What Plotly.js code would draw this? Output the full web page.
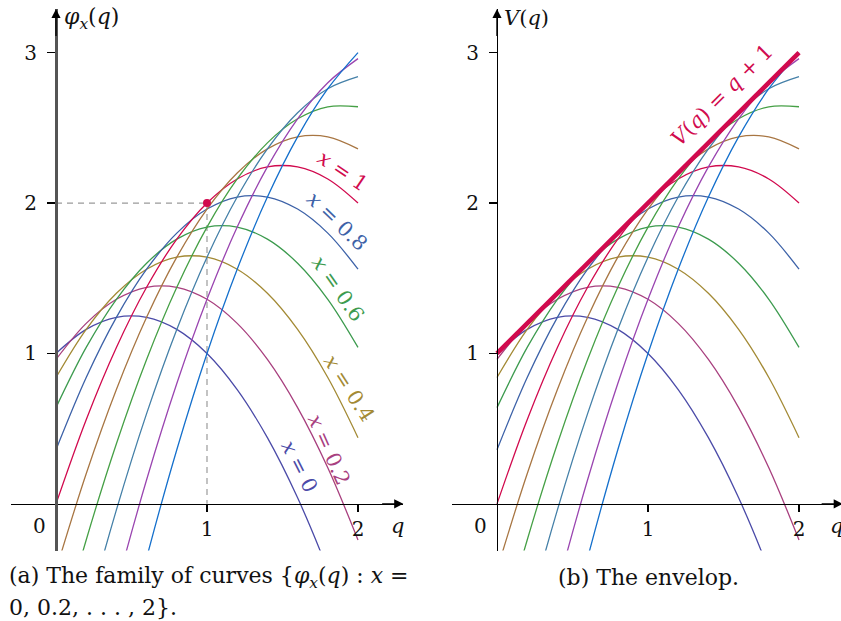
<!DOCTYPE html>
<html><head><meta charset="utf-8">
<script src="https://cdn.plot.ly/plotly-3.0.1.min.js"></script>
<style>html,body{margin:0;padding:0;background:#fff}</style>
</head><body><div id="chart" style="width:841px;height:621px"></div>
<script>
// sample positions along q
const qGrid = [0, 0.2, 0.4, 0.6, 0.8, 1.0, 1.2, 1.4, 1.6, 1.8, 2.0];
// family parameter x
const xParams = [0, 0.2, 0.4, 0.6, 0.8, 1, 1.2, 1.4, 1.6, 1.8, 2];
// phi_x(q), one array per curve
const phi_0   = [1.00, 1.16, 1.24, 1.24, 1.16, 1.00, 0.76, 0.44, 0.04, -0.44, -1.00];
const phi_02  = [0.96, 1.20, 1.36, 1.44, 1.44, 1.36, 1.20, 0.96, 0.64, 0.24, -0.24];
const phi_04  = [0.84, 1.16, 1.40, 1.56, 1.64, 1.64, 1.56, 1.40, 1.16, 0.84, 0.44];
const phi_06  = [0.64, 1.04, 1.36, 1.60, 1.76, 1.84, 1.84, 1.76, 1.60, 1.36, 1.04];
const phi_08  = [0.36, 0.84, 1.24, 1.56, 1.80, 1.96, 2.04, 2.04, 1.96, 1.80, 1.56];
const phi_1   = [0.00, 0.56, 1.04, 1.44, 1.76, 2.00, 2.16, 2.24, 2.24, 2.16, 2.00];
const phi_12  = [-0.44, 0.20, 0.76, 1.24, 1.64, 1.96, 2.20, 2.36, 2.44, 2.44, 2.36];
const phi_14  = [-0.96, -0.24, 0.40, 0.96, 1.44, 1.84, 2.16, 2.40, 2.56, 2.64, 2.64];
const phi_16  = [-1.56, -0.76, -0.04, 0.60, 1.16, 1.64, 2.04, 2.36, 2.60, 2.76, 2.84];
const phi_18  = [-2.24, -1.36, -0.56, 0.16, 0.80, 1.36, 1.84, 2.24, 2.56, 2.80, 2.96];
const phi_2   = [-3.00, -2.04, -1.16, -0.36, 0.36, 1.00, 1.56, 2.04, 2.44, 2.76, 3.00];
const phiSeries = [phi_0, phi_02, phi_04, phi_06, phi_08, phi_1, phi_12, phi_14, phi_16, phi_18, phi_2];
// envelope V(q) = q + 1
const envQ = [0, 2];
const envV = [1, 3];
// marked point on x = 1 curve
const markQ = [1];
const markV = [2];
// tick labels
const xTickVals = [1, 2];
const xTickText = ['1', '2'];
const yTickVals = [1, 2, 3];
const yTickText = ['1', '2', '3'];
// labeled curves (left panel)
const labelText = ['<i>x</i> = 0', '<i>x</i> = 0.2', '<i>x</i> = 0.4', '<i>x</i> = 0.6', '<i>x</i> = 0.8', '<i>x</i> = 1'];

const colors = ['#4b4ba8', '#a8407f', '#a38a35', '#3d9b4f', '#3d62a8', '#d10a4e',
                '#a87643', '#46a046', '#4580a8', '#9a45b0', '#1570cc'];
const SERIF = 'DejaVu Serif';

const traces = [];
// dashed guides (left)
traces.push({x: [0, markQ[0]], y: [markV[0], markV[0]], xaxis: 'x', yaxis: 'y', mode: 'lines',
  line: {color: '#9a9a9a', width: 1.2, dash: '6px,5px'}, hoverinfo: 'skip'});
traces.push({x: [markQ[0], markQ[0]], y: [markV[0], 0], xaxis: 'x', yaxis: 'y', mode: 'lines',
  line: {color: '#9a9a9a', width: 1.2, dash: '6px,5px'}, hoverinfo: 'skip'});
['x', 'x2'].forEach((xa, p) => {
  phiSeries.forEach((ys, i) => {
    traces.push({x: qGrid, y: ys, xaxis: xa, yaxis: p === 0 ? 'y' : 'y2', mode: 'lines',
      line: {color: colors[i], width: 1.3, shape: 'spline', smoothing: 1}, name: 'x=' + xParams[i]});
  });
});
traces.push({x: envQ, y: envV, xaxis: 'x2', yaxis: 'y2', mode: 'lines',
  line: {color: '#d10a4e', width: 4.5}});
traces.push({x: markQ, y: markV, xaxis: 'x', yaxis: 'y', mode: 'markers',
  marker: {color: '#d10a4e', size: 8}});

const W = 841, H = 621;
const yDom = [(H - 550.5) / H, (H - 9) / H];
const TF = {family: SERIF, size: 20, color: '#111'};
const axX = (dom, rng, pos, lc, lw) => ({domain: dom, range: rng, anchor: 'free', position: pos,
  showgrid: false, zeroline: false, showline: true, linecolor: lc, linewidth: lw,
  tickmode: 'array', tickvals: xTickVals, ticktext: xTickText, ticks: 'outside', ticklen: 7,
  tickwidth: 1.2, tickcolor: '#000', tickfont: TF, fixedrange: true});
const axY = (pos, lc, lw) => ({domain: yDom, range: [-0.31, 3.29], anchor: 'free', position: pos,
  showgrid: false, zeroline: false, showline: true, linecolor: lc, linewidth: lw,
  tickmode: 'array', tickvals: yTickVals, ticktext: yTickText, ticks: 'outside', ticklen: 8,
  ticklabelstandoff: 6,
  tickwidth: 1.2, tickcolor: '#000', tickfont: TF, fixedrange: true});

const xPos = (H - 504) / H;
const layout = {
  width: W, height: H, margin: {l: 0, r: 0, t: 0, b: 0}, showlegend: false,
  paper_bgcolor: '#fff', plot_bgcolor: 'rgba(0,0,0,0)',
  xaxis: axX([10.7 / W, 403.3 / W], [-0.3, 2.3], xPos, '#000', 1.4),
  yaxis: axY(56 / W, '#555', 2.5),
  xaxis2: axX([451.7 / W, 1], [-0.3, 2.278], xPos, '#000', 1.4),
  yaxis2: axY(497 / W, '#000', 1.2),
  annotations: []
};
const A = layout.annotations;
// axis arrows
[['x', 'y', 2.3], ['x2', 'y2', 2.29]].forEach(([xa, ya, xe]) => {
  A.push({xref: xa, yref: ya, axref: xa, ayref: ya, x: xe, y: 0, ax: xe - 0.15, ay: 0, text: '',
    showarrow: true, arrowhead: 2, arrowsize: 1.3, arrowwidth: 1.4, arrowcolor: '#000'});
  A.push({xref: xa, yref: ya, axref: xa, ayref: ya, x: 0, y: 3.29, ax: 0, ay: 3.1, text: '',
    showarrow: true, arrowhead: 2, arrowsize: 1.3, arrowwidth: 1.4, arrowcolor: '#000'});
  A.push({xref: xa, yref: ya, x: -0.11, y: -0.15, text: '0', showarrow: false, font: TF});
  A.push({xref: xa, yref: ya, x: xe - 0.04, y: -0.15, text: '<i>q</i>', showarrow: false,
    font: {family: SERIF, size: 21, color: '#111'}});
});
A.push({xref: 'x', yref: 'y', x: 0.04, y: 3.23, xanchor: 'left', text: '<i>φ<sub>x</sub></i>(<i>q</i>)',
  showarrow: false, font: {family: SERIF, size: 22, color: '#111'}});
A.push({xref: 'x2', yref: 'y2', x: 0.03, y: 3.23, xanchor: 'left', text: '<i>V</i>(<i>q</i>)',
  showarrow: false, font: {family: SERIF, size: 21, color: '#111'}});
// curve labels
const labPos = [[1.61, 0.25, 63], [1.81, 0.36, 66], [1.94, 0.77, 57], [1.87, 1.43, 55], [1.86, 1.88, 44], [1.90, 2.21, 34]];
labPos.forEach((p, i) => {
  A.push({xref: 'x', yref: 'y', x: p[0], y: p[1], text: labelText[i], textangle: p[2],
    showarrow: false, font: {family: SERIF, size: 20.5, color: colors[i]}});
});
A.push({xref: 'x2', yref: 'y2', x: 1.49, y: 2.72, text: '<i>V</i>(<i>q</i>) = <i>q</i> + 1', textangle: -45,
  showarrow: false, font: {family: SERIF, size: 21, color: '#d10a4e'}});
// captions
const CF = {family: SERIF, size: 22, color: '#111'};
A.push({xref: 'paper', yref: 'paper', x: 7 / W, y: 1 - 577 / H, xanchor: 'left', yanchor: 'middle',
  text: '(a) The family of curves {<i>φ<sub>x</sub></i>(<i>q</i>) : <i>x</i> =', showarrow: false, font: CF});
A.push({xref: 'paper', yref: 'paper', x: 7 / W, y: 1 - 607 / H, xanchor: 'left', yanchor: 'middle',
  text: '0, 0.2, . . . , 2}.', showarrow: false, font: CF});
A.push({xref: 'paper', yref: 'paper', x: 648 / W, y: 1 - 577 / H, xanchor: 'center', yanchor: 'middle',
  text: '(b) The envelop.', showarrow: false, font: CF});

Plotly.newPlot('chart', traces, layout, {staticPlot: true, displayModeBar: false});
</script></body></html>
